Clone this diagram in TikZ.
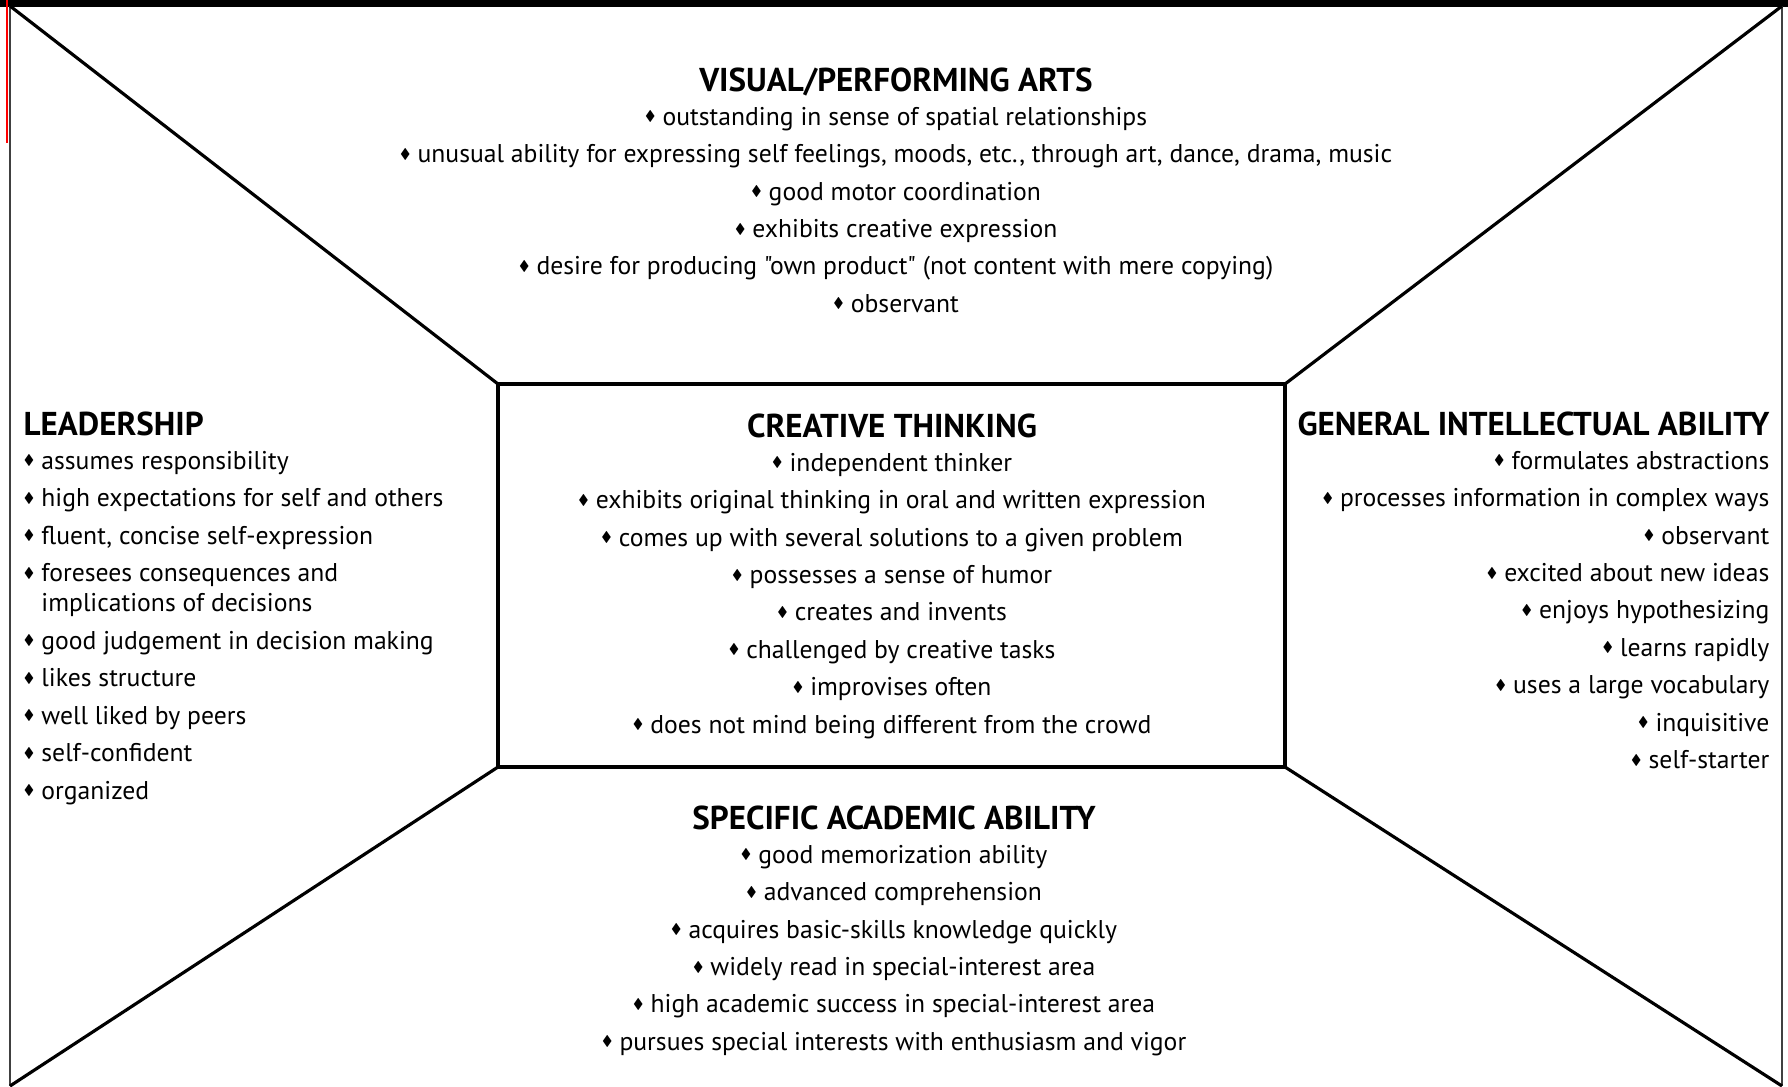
\documentclass[tikz,border=0pt]{standalone}
\usepackage{fontspec}
\usepackage{amssymb}
\setmainfont{PT Sans}[Ligatures=TeXOff]

\newcommand{\bul}{\raisebox{.35ex}{\scalebox{.55}{$\blacklozenge$}}\ }
\newcommand{\hd}[1]{{\fontsize{9.4}{10.6}\selectfont\bfseries #1}\\[-1pt]}

\tikzset{
  sect/.style={inner sep=0pt, font=\fontsize{7.3}{10.65}\selectfont},
  frame/.style={line width=0.9pt}
}

\begin{document}
\begin{tikzpicture}
            \useasboundingbox (0,0) rectangle (17.88,-10.86);
            % outer corners and inner box
            \coordinate (TL) at (0.10,-0.06);
            \coordinate (TR) at (17.82,-0.06);
            \coordinate (BL) at (0.10,-10.86);
            \coordinate (BR) at (17.82,-10.86);
            \coordinate (tl) at (4.98,-3.84);
            \coordinate (tr) at (12.85,-3.84);
            \coordinate (bl) at (4.98,-7.67);
            \coordinate (br) at (12.85,-7.67);

            \draw[line width=2pt] (0,-0.035) -- (17.88,-0.035);
            \draw[red, line width=0.6pt] (0.07,0) -- (0.07,-1.43);
            \draw[darkgray, line width=0.6pt] (TL) -- (BL);
            \draw[darkgray, line width=0.6pt] (TR) -- (BR);

            \draw[frame] (tl) rectangle (br);
            \draw[frame] (TL) -- (tl);
            \draw[frame] (TR) -- (tr);
            \draw[frame] (BL) -- (bl);
            \draw[frame] (BR) -- (br);

            \node[sect, align=center, anchor=north] (arts) at (8.96,-0.67) {
              \hd{VISUAL/PERFORMING ARTS}
              \bul outstanding in sense of spatial relationships\\
              \bul unusual ability for expressing self feelings, moods, etc., through art, dance, drama, music\\
              \bul good motor coordination\\
              \bul exhibits creative expression\\
              \bul desire for producing "own product" (not content with mere copying)\\
              \bul observant};

            \node[sect, align=center, anchor=north] (creative) at (8.92,-4.13) {
              \hd{CREATIVE THINKING}
              \bul independent thinker\\
              \bul exhibits original thinking in oral and written expression\\
              \bul comes up with several solutions to a given problem\\
              \bul possesses a sense of humor\\
              \bul creates and invents\\
              \bul challenged by creative tasks\\
              \bul improvises often\\
              \bul does not mind being different from the crowd};

            \node[sect, align=left, anchor=north west] (leader) at (0.23,-4.11) {
              \hd{LEADERSHIP}
              \bul assumes responsibility\\
              \bul high expectations for self and others\\
              \bul fluent, concise self-expression\\
              \bul foresees consequences and\\[-2pt]
              \phantom{\bul}implications of decisions\\
              \bul good judgement in decision making\\
              \bul likes structure\\
              \bul well liked by peers\\
              \bul self-confident\\
              \bul organized};

            \node[sect, align=right, anchor=north east] (general) at (17.70,-4.11) {
              \hd{GENERAL INTELLECTUAL ABILITY}
              \bul formulates abstractions\\
              \bul processes information in complex ways\\
              \bul observant\\
              \bul excited about new ideas\\
              \bul enjoys hypothesizing\\
              \bul learns rapidly\\
              \bul uses a large vocabulary\\
              \bul inquisitive\\
              \bul self-starter};

            \node[sect, align=center, anchor=north] (academic) at (8.94,-8.05) {
              \hd{SPECIFIC ACADEMIC ABILITY}
              \bul good memorization ability\\
              \bul advanced comprehension\\
              \bul acquires basic-skills knowledge quickly\\
              \bul widely read in special-interest area\\
              \bul high academic success in special-interest area\\
              \bul pursues special interests with enthusiasm and vigor};
        \end{tikzpicture}
\end{document}
